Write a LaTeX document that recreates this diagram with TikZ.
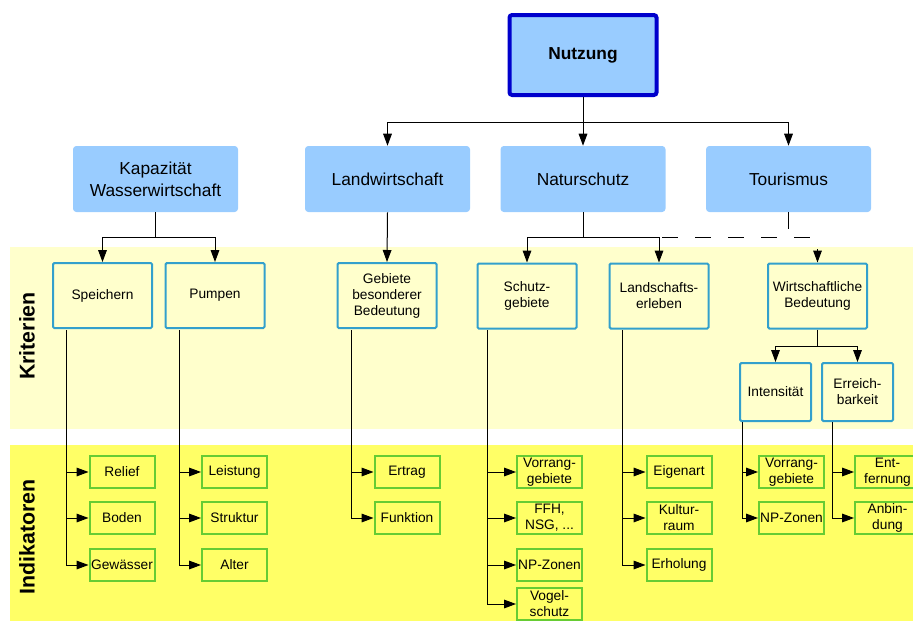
\documentclass[tikz,border=0pt]{standalone}
\usepackage{fontspec}
\setmainfont{Liberation Sans}
\usetikzlibrary{arrows.meta}

\definecolor{hellblau}{RGB}{153,204,255}
\definecolor{dunkelblau}{RGB}{0,0,204}
\definecolor{hellgelb}{RGB}{255,255,204}
\definecolor{gelb}{RGB}{255,255,102}
\definecolor{kritrand}{RGB}{51,160,204}
\definecolor{indrand}{RGB}{102,204,51}

\tikzset{
  hauptbox/.style={draw=dunkelblau, line width=3pt, fill=hellblau, rounded corners=2pt,
    minimum width=110.25pt, minimum height=60pt, inner sep=0pt,
    font=\fontsize{13}{16}\selectfont\bfseries},
  ebenebox/.style={fill=hellblau, rounded corners=2.5pt, minimum width=123.75pt,
    minimum height=49.5pt, align=center, inner sep=0pt, font=\fontsize{13}{16.5}\selectfont},
  kritbox/.style={draw=kritrand, line width=1.5pt, fill=hellgelb, rounded corners=1pt,
    minimum width=74.25pt, minimum height=48.75pt, align=center, inner sep=0pt,
    font=\fontsize{10.3}{12}\selectfont},
  kleinkrit/.style={kritbox, minimum width=53.25pt, minimum height=43.5pt},
  indbox/.style={draw=indrand, line width=1.5pt, fill=gelb, minimum width=48.75pt,
    minimum height=24pt, align=center, inner sep=0pt, font=\fontsize{10.3}{12}\selectfont},
  seitentext/.style={rotate=90, font=\fontsize{16}{18}\selectfont\bfseries},
  pfeil/.style={-{Triangle[length=9pt,width=6.5pt]}, line width=0.75pt},
  linie/.style={line width=0.75pt}
}

\begin{document}
\begin{tikzpicture}[x=0.75pt,y=0.75pt,yscale=-1,xscale=1]
\useasboundingbox (0,0) rectangle (913,621);

% Baender
\fill[hellgelb] (10,247) rectangle (913,429);
\fill[gelb] (10,445) rectangle (913,621);
\node[seitentext] (kriterien) at (27,336) {Kriterien};
\node[seitentext] (indikatoren) at (27,537) {Indikatoren};

% Nutzung und Ebenen
\node[hauptbox] (nutzung) at (583,55) {Nutzung};
\node[ebenebox] (kap) at (155.5,179) {Kapazität\\Wasserwirtschaft};
\node[ebenebox] (landw) at (387.5,179) {Landwirtschaft};
\node[ebenebox] (natur) at (583,179) {Naturschutz};
\node[ebenebox] (tour) at (788.5,179) {Tourismus};

% Kriterien
\node[kritbox] (speichern) at (102.5,295.5) {Speichern};
\node[kritbox] (pumpen) at (215,295.5) {Pumpen};
\node[kritbox] (gebiete) at (387,295.5) {Gebiete\\besonderer\\Bedeutung};
\node[kritbox] (schutz) at (527,296) {Schutz-\\gebiete};
\node[kritbox] (landsch) at (659,296) {Landschafts-\\erleben};
\node[kritbox] (wirt) at (817.5,296) {Wirtschaftliche\\Bedeutung};
\node[kleinkrit] (intens) at (775.5,392) {Intensität};
\node[kleinkrit] (erreich) at (857.5,392) {Erreich-\\barkeit};

% Indikatoren
\node[indbox] (relief) at (122,472) {Relief};
\node[indbox] (boden) at (122,518) {Boden};
\node[indbox] (gewaesser) at (122,565) {Gewässer};
\node[indbox] (leistung) at (234.5,472) {Leistung};
\node[indbox] (struktur) at (234.5,518) {Struktur};
\node[indbox] (alter) at (234.5,565) {Alter};
\node[indbox] (ertrag) at (407,472) {Ertrag};
\node[indbox] (funktion) at (407,518) {Funktion};
\node[indbox] (vorrang) at (549.5,472) {Vorrang-\\gebiete};
\node[indbox] (ffh) at (549.5,518) {FFH,\\NSG, ...};
\node[indbox] (npzonen) at (549.5,565) {NP-Zonen};
\node[indbox] (vogel) at (549.5,604) {Vogel-\\schutz};
\node[indbox] (eigenart) at (679,472) {Eigenart};
\node[indbox] (kultur) at (679,518) {Kultur-\\raum};
\node[indbox] (erholung) at (679,565) {Erholung};
\node[indbox] (vorrangt) at (791.5,472) {Vorrang-\\gebiete};
\node[indbox] (npzonent) at (791.5,518) {NP-Zonen};
\node[indbox] (entfern) at (887.5,472) {Ent-\\fernung};
\node[indbox] (anbind) at (887.5,518) {Anbin-\\dung};

% Verzweigungen
\coordinate (n-j) at (583,122);
\coordinate (k-j) at (155.5,237);
\coordinate (na-j) at (583,237);
\coordinate (t-e) at (788.5,229);
\coordinate (w-a) at (817.5,249);
\coordinate (w-j) at (817.5,346);

\draw[linie] (nutzung.south) -- (n-j);
\foreach \ziel in {landw,natur,tour}
  \draw[pfeil] (n-j) -| (\ziel.north);

\draw[linie] (kap.south) -- (k-j);
\draw[pfeil] (k-j) -| (speichern.north);
\draw[pfeil] (k-j) -| (pumpen.north);

\draw[pfeil] (landw.south) -- (gebiete.north);

\draw[linie] (natur.south) -- (na-j);
\draw[pfeil] (na-j) -| (schutz.north);
\draw[pfeil] (na-j) -| (landsch.north);
\draw[linie, dash pattern=on 12pt off 12.75pt, dash phase=22.5pt] (landsch.north |- na-j) -- (w-a |- na-j);
\draw[linie] (tour.south) -- (t-e);
\draw[pfeil] (w-a) -- (wirt.north);

\draw[linie] (wirt.south) -- (w-j);
\draw[pfeil] (w-j) -| (intens.north);
\draw[pfeil] (w-j) -| (erreich.north);

% Stiele zu den Indikatoren
\coordinate (sp-b) at (66,330);
\coordinate (pu-b) at (179,330);
\coordinate (ge-b) at (351,330);
\coordinate (sc-b) at (487,330);
\coordinate (la-b) at (622,330);
\coordinate (in-b) at (742,422);
\coordinate (er-b) at (832,422);

\foreach \quelle/\ziele in {sp-b/{relief,boden,gewaesser}, pu-b/{leistung,struktur,alter},
    ge-b/{ertrag,funktion}, sc-b/{vorrang,ffh,npzonen,vogel}, la-b/{eigenart,kultur,erholung},
    in-b/{vorrangt,npzonent}, er-b/{entfern,anbind}}
  \foreach \ziel in \ziele
    \draw[pfeil] (\quelle) |- (\ziel.west);

\end{tikzpicture}
\end{document}
